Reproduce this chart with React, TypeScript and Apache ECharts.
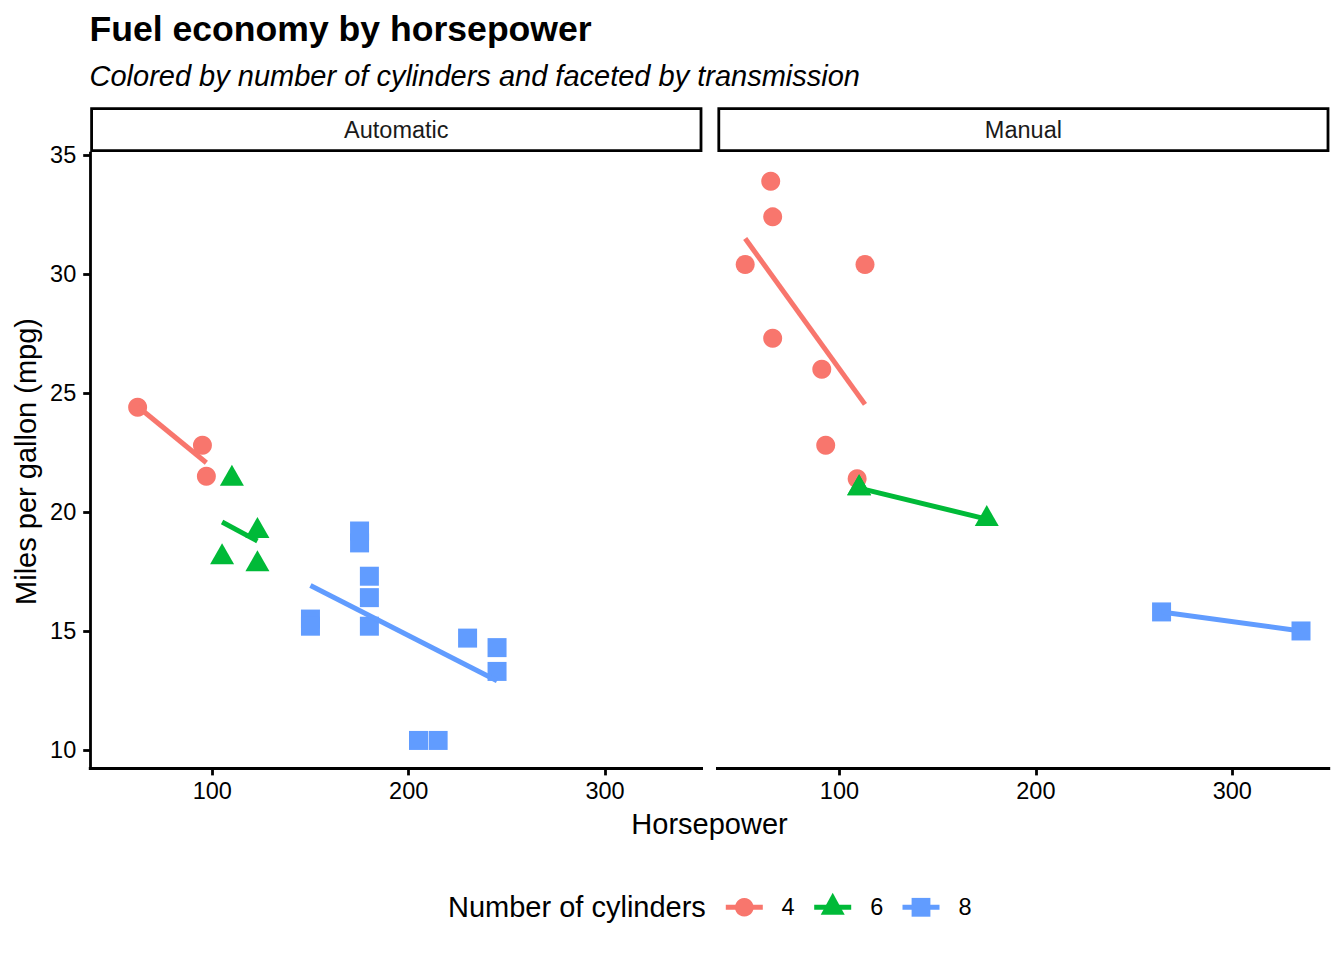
import React, { useEffect, useRef } from "react";
import * as echarts from "echarts";

// ---- data (mtcars: hp vs mpg) ----
const autoCyl4Hp = [62, 95, 97];
const autoCyl4Mpg = [24.4, 22.8, 21.5];
const autoCyl6Hp = [110, 105, 123, 123];
const autoCyl6Mpg = [21.4, 18.1, 19.2, 17.8];
const autoCyl8Hp = [175, 245, 180, 180, 180, 205, 215, 230, 150, 150, 245, 175];
const autoCyl8Mpg = [18.7, 14.3, 16.4, 17.3, 15.2, 10.4, 10.4, 14.7, 15.5, 15.2, 13.3, 19.2];
const manCyl4Hp = [93, 66, 52, 65, 66, 91, 113, 109];
const manCyl4Mpg = [22.8, 32.4, 30.4, 33.9, 27.3, 26.0, 30.4, 21.4];
const manCyl6Hp = [110, 110, 175];
const manCyl6Mpg = [21.0, 21.0, 19.7];
const manCyl8Hp = [264, 335];
const manCyl8Mpg = [15.8, 15.0];

// fitted linear trend end points (hp, mpg)
const autoFit4 = [[62, 24.43], [97, 22.07]];
const autoFit6 = [[105, 19.58], [123, 18.78]];
const autoFit8 = [[150, 16.91], [245, 12.91]];
const manFit4 = [[52, 31.49], [113, 24.52]];
const manFit6 = [[110, 21.0], [175, 19.7]];
const manFit8 = [[264, 15.8], [335, 15.0]];

const facets = ["Automatic", "Manual"];
const cylinders = ["4", "6", "8"];
const xTicks = [100, 200, 300];
const yTicks = [10, 15, 20, 25, 30, 35];

const COLORS = ["#F8766D", "#00BA38", "#619CFF"];
const FONT = "'Liberation Sans', Arial, Helvetica, sans-serif";

const zip = (a: number[], b: number[]) => a.map((v, i) => [v, b[i]]);

export default function App() {
  const ref = useRef<HTMLDivElement>(null);

  useEffect(() => {
    if (!ref.current) return;
    const chart = echarts.init(ref.current, null, { renderer: "svg" });

    const pointSets = [
      [zip(autoCyl4Hp, autoCyl4Mpg), zip(autoCyl6Hp, autoCyl6Mpg), zip(autoCyl8Hp, autoCyl8Mpg)],
      [zip(manCyl4Hp, manCyl4Mpg), zip(manCyl6Hp, manCyl6Mpg), zip(manCyl8Hp, manCyl8Mpg)],
    ];
    const fitSets = [
      [autoFit4, autoFit6, autoFit8],
      [manFit4, manFit6, manFit8],
    ];
    const symbols: any[] = ["circle", "triangle", "rect"];
    const symbolSizes: any[] = [19, [24, 21], 19];
    const symbolOffsets: any[] = [[0, 0], [0, -3.5], [0, 0]];

    const gridLeft = [90.2, 717.4];
    const gridTop = 153.2;
    const gridW = 611.4;
    const gridH = 615.2;

    const series: any[] = [];
    for (let f = 0; f < 2; f++) {
      for (let c = 0; c < 3; c++) {
        series.push({
          type: "scatter",
          name: cylinders[c],
          xAxisIndex: f,
          yAxisIndex: f,
          data: pointSets[f][c],
          symbol: symbols[c],
          symbolSize: symbolSizes[c],
          symbolOffset: symbolOffsets[c],
          itemStyle: { color: COLORS[c], opacity: 1 },
          silent: true,
          z: 2,
        });
      }
      for (let c = 0; c < 3; c++) {
        series.push({
          type: "line",
          name: cylinders[c],
          xAxisIndex: f,
          yAxisIndex: f,
          data: fitSets[f][c],
          symbol: "none",
          showSymbol: false,
          lineStyle: { color: COLORS[c], width: 5 },
          silent: true,
          z: 3,
        });
      }
    }

    const xAxisBase = (gi: number) => ({
      type: "value",
      gridIndex: gi,
      min: 37.85,
      max: 349.15,
      axisLine: { show: true, onZero: false, lineStyle: { color: "#000", width: 2.8, cap: "square" } },
      axisTick: { show: true, length: 7, customValues: xTicks, lineStyle: { color: "#000", width: 2.8 } },
      axisLabel: {
        show: true,
        customValues: xTicks,
        fontSize: 23.5,
        color: "#000",
        fontFamily: FONT,
        margin: 11,
      },
      splitLine: { show: false },
    });

    const graphics: any[] = [];
    // facet strips
    const stripRects = [
      [91.6, 701.0],
      [718.8, 1328.0],
    ];
    for (let f = 0; f < 2; f++) {
      const [x0, x1] = stripRects[f];
      graphics.push({
        type: "rect",
        shape: { x: x0, y: 108.7, width: x1 - x0, height: 42 },
        style: { fill: "#fff", stroke: "#000", lineWidth: 2.8 },
        silent: true,
      });
      graphics.push({
        type: "text",
        x: (x0 + x1) / 2,
        y: 129.7,
        style: {
          text: facets[f],
          fontSize: 23.5,
          fontFamily: FONT,
          fill: "#1a1a1a",
          align: "center",
          verticalAlign: "middle",
        },
        silent: true,
      });
    }
    // axis titles
    graphics.push({
      type: "text",
      x: 709.5,
      y: 823.5,
      style: { text: "Horsepower", fontSize: 29, fontFamily: FONT, fill: "#000", align: "center", verticalAlign: "middle" },
      silent: true,
    });
    graphics.push({
      type: "text",
      x: 26,
      y: 461.5,
      rotation: Math.PI / 2,
      style: {
        text: "Miles per gallon (mpg)",
        fontSize: 29,
        fontFamily: FONT,
        fill: "#000",
        align: "center",
        verticalAlign: "middle",
      },
      silent: true,
    });
    // legend
    const legY = 907.3;
    graphics.push({
      type: "text",
      x: 448,
      y: legY,
      style: { text: "Number of cylinders", fontSize: 29, fontFamily: FONT, fill: "#000", align: "left", verticalAlign: "middle" },
      silent: true,
    });
    const keyCenters = [744.3, 832.7, 921];
    const labelCenters = [788, 876.7, 965];
    for (let c = 0; c < 3; c++) {
      const cx = keyCenters[c];
      graphics.push({
        type: "line",
        shape: { x1: cx - 18.5, y1: legY, x2: cx + 18.5, y2: legY },
        style: { stroke: COLORS[c], lineWidth: 5 },
        silent: true,
      });
      if (c === 0) {
        graphics.push({ type: "circle", shape: { cx, cy: legY, r: 9.3 }, style: { fill: COLORS[c] }, silent: true });
      } else if (c === 1) {
        graphics.push({
          type: "polygon",
          shape: { points: [[cx - 12, legY + 7.4], [cx + 12, legY + 7.4], [cx, legY - 14.6]] },
          style: { fill: COLORS[c] },
          silent: true,
        });
      } else {
        graphics.push({
          type: "rect",
          shape: { x: cx - 9.4, y: legY - 9.4, width: 18.8, height: 18.8 },
          style: { fill: COLORS[c] },
          silent: true,
        });
      }
      graphics.push({
        type: "text",
        x: labelCenters[c],
        y: legY,
        style: { text: cylinders[c], fontSize: 23.5, fontFamily: FONT, fill: "#000", align: "center", verticalAlign: "middle" },
        silent: true,
      });
    }

    const option: any = {
      animation: false,
      backgroundColor: "#ffffff",
      textStyle: { fontFamily: FONT },
      title: {
        text: "Fuel economy by horsepower",
        subtext: "Colored by number of cylinders and faceted by transmission",
        left: 89.5,
        top: 11,
        padding: 0,
        itemGap: 14,
        textStyle: { fontSize: 35.6, fontWeight: "bold", color: "#000", fontFamily: FONT, lineHeight: 35 },
        subtextStyle: { fontSize: 29, fontStyle: "italic", color: "#000", fontFamily: FONT, lineHeight: 29 },
      },
      grid: [0, 1].map((i) => ({
        left: gridLeft[i],
        top: gridTop,
        width: gridW,
        height: gridH,
        containLabel: false,
        outerBoundsMode: "none",
      })),
      xAxis: [xAxisBase(0), xAxisBase(1)],
      yAxis: [
        {
          type: "value",
          gridIndex: 0,
          min: 9.225,
          max: 35.075,
          axisLine: { show: true, onZero: false, lineStyle: { color: "#000", width: 2.8, cap: "square" } },
          axisTick: { show: true, length: 7, customValues: yTicks, lineStyle: { color: "#000", width: 2.8 } },
          axisLabel: {
            show: true,
            customValues: yTicks,
            fontSize: 23.5,
            color: "#000",
            fontFamily: FONT,
            margin: 14,
          },
          splitLine: { show: false },
        },
        {
          type: "value",
          gridIndex: 1,
          min: 9.225,
          max: 35.075,
          show: false,
          splitLine: { show: false },
        },
      ],
      series,
      graphic: graphics,
    };

    chart.setOption(option);
    return () => {
      chart.dispose();
    };
  }, []);

  return (
    <div
      ref={ref}
      style={{ position: "absolute", left: 0, top: 0, width: 1344, height: 960, background: "#fff" }}
    />
  );
}
